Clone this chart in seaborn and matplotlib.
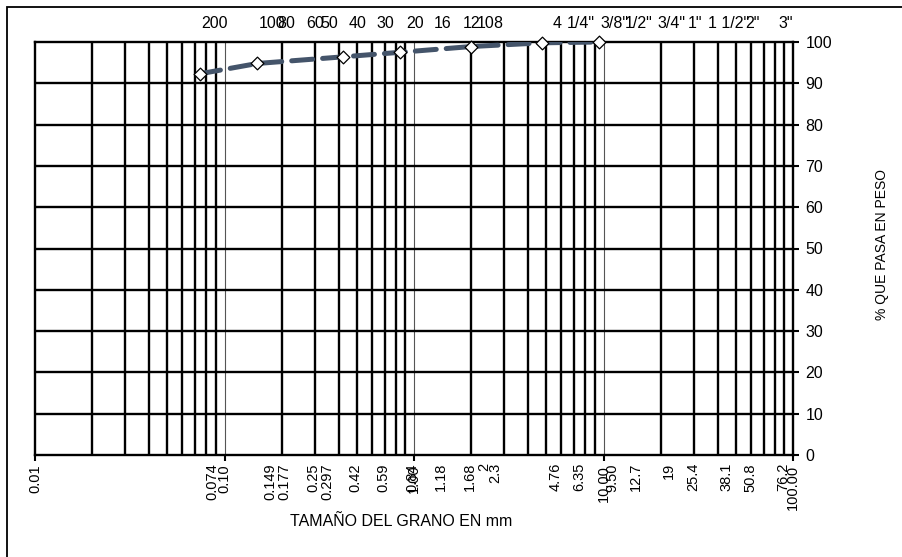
import matplotlib
matplotlib.use("Agg")
import matplotlib.pyplot as plt
import matplotlib.transforms as mtransforms
from matplotlib.patches import Rectangle
from matplotlib.ticker import FixedLocator, NullFormatter
import seaborn as sns

# datos de la curva granulometrica
abertura_mm = [0.074, 0.149, 0.42, 0.84, 2.0, 4.76, 9.5]
pct_pasa = [92.3, 94.8, 96.4, 97.5, 98.9, 99.8, 100.0]

# tamices (tamaño en mm, etiqueta superior, etiqueta inferior)
tamiz_mm = [0.074, 0.149, 0.177, 0.25, 0.297, 0.42, 0.59, 0.84, 1.18, 1.68, 2.0,
            2.3, 4.76, 6.35, 9.5, 12.7, 19, 25.4, 38.1, 50.8, 76.2]
tamiz_nombre = ["200", "100", "80", "60", "50", "40", "30", "20", "16", "12", "10",
                "8", "4", '1/4"', '3/8"', '1/2"', '3/4"', '1"', '1 1/2"', '2"', '3"']
tamiz_texto = ["0.074", "0.149", "0.177", "0.25", "0.297", "0.42", "0.59", "0.84",
               "1.18", "1.68", "2", "2.3", "4.76", "6.35", "9.50", "12.7", "19",
               "25.4", "38.1", "50.8", "76.2"]

decadas = [0.01, 0.1, 1, 10, 100]
decadas_texto = ["0.01", "0.10", "1.00", "10.00", "100.00"]

sns.set_theme(style="white")
plt.rcParams['font.family'] = ['Liberation Sans', 'DejaVu Sans']
plt.rcParams['text.color'] = 'black'
fs = 11.5      # textos horizontales
fs_rot = 10.5  # textos verticales

fig = plt.figure(figsize=(9.02, 5.57), dpi=100)
ax = fig.add_axes([35/902, 1-455/557, (793-35)/902, (455-42)/557])
ax.set_xscale("log")
ax.set_xlim(0.01, 100)
ax.set_ylim(0, 100)

# rejilla: lineas menores gruesas, decadas finas
for d in [0.01, 0.1, 1, 10]:
    for k in range(2, 10):
        ax.axvline(d*k, color="black", lw=1.7, zorder=1)
for d in [0.1, 1, 10]:
    ax.axvline(d, color="#555555", lw=0.8, zorder=1)
for v in range(10, 100, 10):
    ax.axhline(v, color="black", lw=1.7, zorder=1)

sns.lineplot(x=abertura_mm, y=pct_pasa, ax=ax, color="#44546A", lw=3.6,
             sort=False, zorder=3)
ax.lines[-1].set_dashes([4.2, 2.0])
ax.lines[-1].set_dash_capstyle("round")
sns.scatterplot(x=abertura_mm, y=pct_pasa, ax=ax, marker="D", s=42,
                color="white", edgecolor="black", linewidth=0.9, zorder=4, clip_on=False)

for s in ax.spines.values():
    s.set_color("black")
    s.set_linewidth(1.7)

ax.yaxis.tick_right()
ax.set_yticks(range(0, 101, 10))
ax.tick_params(axis="y", right=True, direction="out", length=4, width=1.5,
               labelsize=fs, pad=5, colors="black")
ax.xaxis.set_major_locator(FixedLocator(decadas))
ax.xaxis.set_minor_locator(FixedLocator([]))
ax.xaxis.set_minor_formatter(NullFormatter())
ax.set_xticklabels(decadas_texto, rotation=90, fontsize=fs_rot, va="top")
ax.tick_params(axis="x", bottom=True, direction="out", length=4, width=1.5,
               pad=3, colors="black")
ax.set_xlabel("")
ax.set_ylabel("")

# etiquetas de tamices (abajo y arriba), desplazadas como en el original
base = mtransforms.blended_transform_factory(ax.transData, ax.transAxes)
tr_abajo = mtransforms.offset_copy(base, fig=fig, x=13, y=-8, units="dots")
tr_arriba = mtransforms.offset_copy(base, fig=fig, x=15, y=11, units="dots")
for xm, nom, txt in zip(tamiz_mm, tamiz_nombre, tamiz_texto):
    ax.text(xm, 0, txt, transform=tr_abajo, rotation=90, ha="center", va="top",
            fontsize=fs_rot, clip_on=False)
    ax.text(xm, 1, nom, transform=tr_arriba, ha="center", va="bottom",
            fontsize=fs, clip_on=False)

fig.text(401/902, 1-522/557, "TAMAÑO DEL GRANO EN mm", ha="center", va="center",
         fontsize=fs)
fig.text(882/902, 1-244/557, "% QUE PASA EN PESO", ha="center", va="center",
         rotation=90, fontsize=10)

# borde del area del grafico
fig.patches.append(Rectangle((7/902, -0.1), 1.2, 1.1 - 7/557, fill=False,
                             lw=1.3, edgecolor="black", transform=fig.transFigure))

fig.savefig("out.png", dpi=100)
